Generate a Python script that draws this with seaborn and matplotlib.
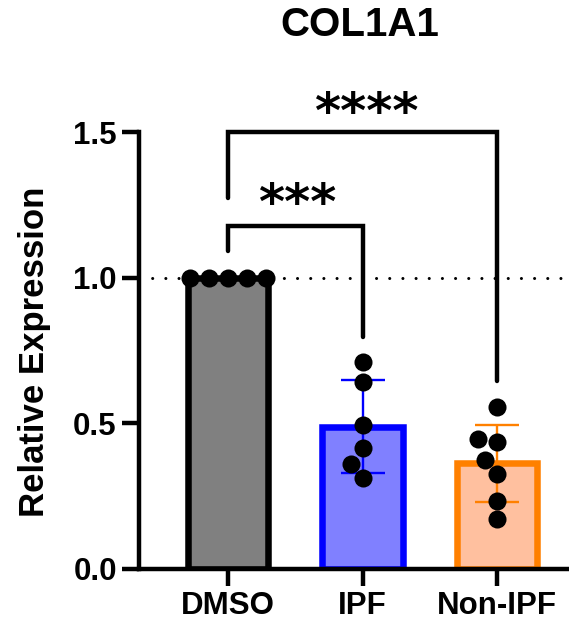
import warnings
import numpy as np
import pandas as pd
import matplotlib
matplotlib.use("Agg")
import matplotlib.pyplot as plt
import seaborn as sns

warnings.filterwarnings("ignore")

# ---------------- data ----------------
categories = ["DMSO", "IPF", "Non-IPF"]
dmso_values = [1.0, 1.0, 1.0, 1.0, 1.0]
ipf_values = [0.709, 0.643, 0.493, 0.416, 0.361, 0.312]
nonipf_values = [0.556, 0.447, 0.436, 0.375, 0.327, 0.234, 0.171]
ytick_values = [0.0, 0.5, 1.0, 1.5]
ytick_labels = ["0.0", "0.5", "1.0", "1.5"]
title_text = "COL1A1"
ylabel_text = "Relative Expression"
sig_labels = ["***", "****"]
reference_level = 1.0

fill_colors = ["#808080", "#8080FF", "#FFC09F"]
edge_colors = ["#000000", "#0000FF", "#FF8000"]

df = pd.DataFrame({
    "group": (["DMSO"] * len(dmso_values) + ["IPF"] * len(ipf_values)
              + ["Non-IPF"] * len(nonipf_values)),
    "value": dmso_values + ipf_values + nonipf_values,
})

# ---------------- style ----------------
sns.set_style("ticks")
plt.rcParams["font.family"] = ["Liberation Sans", "DejaVu Sans"]
plt.rcParams["font.weight"] = "bold"
plt.rcParams["text.color"] = "black"
plt.rcParams["axes.labelcolor"] = "black"
plt.rcParams["axes.edgecolor"] = "black"
plt.rcParams["xtick.color"] = "black"
plt.rcParams["ytick.color"] = "black"

W, H = 569, 628
fig = plt.figure(figsize=(W / 100, H / 100), dpi=100)
ax_left, ax_bottom_px, ax_top_px = 139, 569, 73.8
ax = fig.add_axes([ax_left / W, (H - ax_bottom_px) / H, 1 - ax_left / W,
                   (ax_bottom_px - ax_top_px) / H])

# bars
sns.barplot(data=df, x="group", y="value", hue="group", order=categories,
            hue_order=categories, palette=dict(zip(categories, fill_colors)),
            errorbar=None, width=0.6, linewidth=4.7, saturation=1,
            legend=False, ax=ax, zorder=1)
for patch, ec in zip(ax.patches, edge_colors):
    patch.set_edgecolor(ec)
    patch.set_joinstyle("miter")

# reference dotted line
ax.axhline(reference_level, color="black", lw=2.2, ls=(0, (0.01, 4.3)),
           dash_capstyle="round", zorder=0.5)

# error bars (mean +/- SD)
for i, (cat, col) in enumerate(zip(categories, edge_colors)):
    vals = df.loc[df["group"] == cat, "value"]
    ax.errorbar(i, vals.mean(), yerr=vals.std(ddof=1), color=col,
                capsize=16, elinewidth=1.7, capthick=1.7, zorder=3)

# individual points
sns.swarmplot(data=df, x="group", y="value", order=categories,
              color="black", size=13, ax=ax, zorder=4, warn_thresh=1)

# axes
ax.set_xlim(-0.662, 2.535)
ax.set_ylim(0, 1.7)
ax.set_yticks(ytick_values)
ax.set_yticklabels(ytick_labels)
ax.set_xlabel("")
ax.set_ylabel("")
for s in ["top", "right"]:
    ax.spines[s].set_visible(False)
for s in ["left", "bottom"]:
    ax.spines[s].set_linewidth(3.2)
    ax.spines[s].set_color("black")
ax.spines["left"].set_bounds(0, 1.5)
ax.tick_params(axis="both", width=3.2, length=12, labelsize=22.5, pad=4,
               direction="out", color="black", labelcolor="black")
for lab in ax.get_xticklabels() + ax.get_yticklabels():
    lab.set_fontweight("bold")

# significance brackets
lw_b = 3.2
ax.plot([0, 0, 2, 2], [1.274, 1.5, 1.5, 0.645], color="black", lw=lw_b,
        solid_joinstyle="miter", clip_on=False, zorder=2)
ax.plot([0, 0, 1, 1], [1.093, 1.178, 1.178, 0.796], color="black", lw=lw_b,
        solid_joinstyle="miter", clip_on=False, zorder=2)
ax.text(0.517, 1.202, sig_labels[0], ha="center", va="baseline", fontsize=36,
        family="DejaVu Sans", fontweight="bold", color="black", clip_on=False)
ax.text(1.026, 1.514, sig_labels[1], ha="center", va="baseline", fontsize=36,
        family="DejaVu Sans", fontweight="bold", color="black", clip_on=False)

# title and y label
fig.text(360 / W, 1 - 25 / H, title_text, ha="center", va="center",
         fontsize=29, fontweight="bold", color="black")
fig.text(35 / W, 1 - 352 / H, ylabel_text, rotation=90, ha="center",
         va="center", fontsize=25, fontweight="bold", color="black")

fig.savefig("out.png", dpi=100)
